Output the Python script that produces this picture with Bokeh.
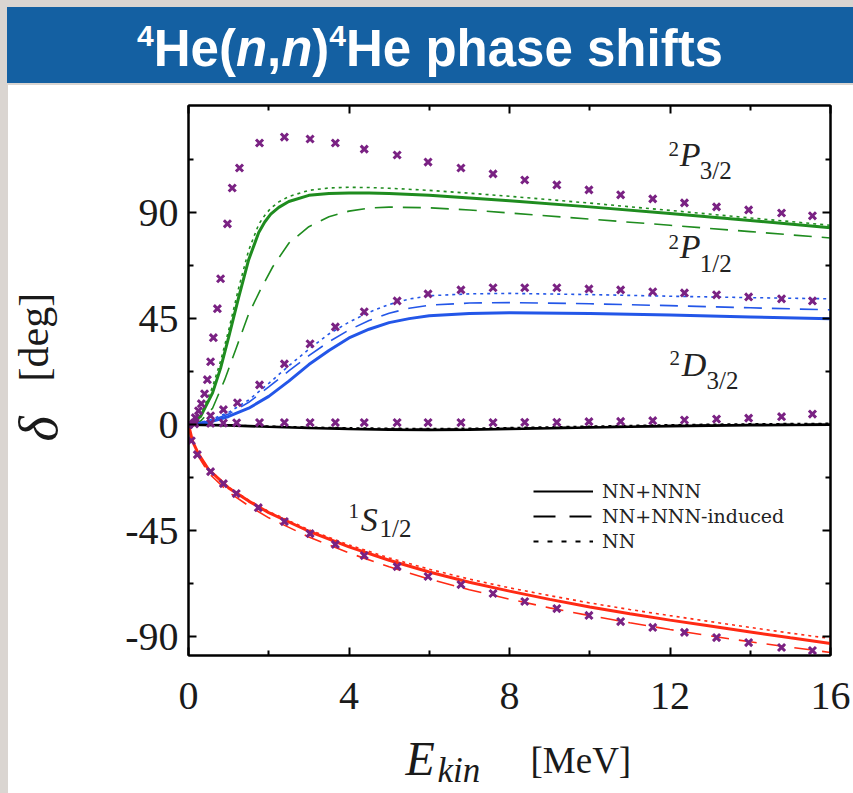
import math
from bokeh.plotting import figure
from bokeh.models import (Range1d, LinearAxis, FixedTicker, Label, Legend,
                          LegendItem, Div)
from bokeh.layouts import column, gridplot
from bokeh.embed import file_html
from bokeh.resources import INLINE

# ---------------- data ----------------
x_ticks = [0, 4, 8, 12, 16]
x_minor = [2, 6, 10, 14]
y_ticks = [-90, -45, 0, 45, 90]
y_tick_labels = ["-90", "-45", "0", "45", "90"]
y_minor = [-67.5, -22.5, 22.5, 67.5, 112.5]

legend_labels = ["NN+NNN", "NN+NNN-induced", "NN"]

# 2P3/2 (green)
E_g = [0, 0.3, 0.6, 0.8, 1.0, 1.25, 1.5, 1.75, 1.9, 2.05, 2.25, 2.5, 3, 3.5, 4, 4.5, 5, 6, 7, 8, 10, 12, 14, 16]
g_solid = [0, 3.5, 13.5, 24, 37, 54, 70, 81.5, 86, 89.3, 92.2, 94.7, 97.3, 98.1, 98.3, 98.3, 98.1, 97.3, 96.2, 95, 92.4, 89.6, 86.6, 83.5]
g_dot = [0, 4, 16, 27, 40, 58, 74, 85, 88.8, 91.8, 94.5, 96.8, 99.4, 100.4, 100.7, 100.6, 100.3, 99.4, 98.2, 96.9, 94, 90.9, 87.7, 84.6]
E_gd = [0, 0.3, 0.6, 0.9, 1.2, 1.5, 1.8, 2.1, 2.5, 3, 3.5, 4, 4.5, 5, 6, 7, 8, 10, 12, 14, 16]
g_dash = [0, 1.5, 7, 19, 33, 47, 57.5, 67, 77, 84, 88.2, 90.6, 91.9, 92.3, 92, 91.1, 89.8, 87.2, 84.6, 81.9, 79.2]

# 2P1/2 (blue)
E_b = [0, 0.5, 1, 1.5, 2, 2.5, 3, 3.5, 4, 4.5, 5, 5.5, 6, 7, 8, 10, 12, 14, 16]
b_solid = [0, 1, 3.5, 7, 12, 18.5, 25.5, 31.5, 36.8, 40.5, 43.3, 45, 46.2, 47.2, 47.5, 47.2, 46.5, 45.7, 44.9]
b_dash = [0, 1.5, 4.5, 9.5, 16, 22.8, 29.3, 35.2, 40.2, 44.2, 47.3, 49.4, 50.7, 51.6, 51.8, 51.3, 50.5, 49.6, 48.7]
b_dot = [0, 1.8, 5.2, 10.5, 17.5, 25, 32, 38.5, 43.5, 47.7, 51, 53.3, 54.7, 55.5, 55.7, 55.2, 54.5, 53.9, 53.4]

# 2D3/2 (black)
E_k = [0, 1, 2, 3, 4, 5, 6, 7, 8, 9, 10, 11, 12, 13, 14, 15, 16]
k_solid = [0, -0.3, -0.9, -1.4, -1.8, -2.1, -2.2, -2.1, -1.8, -1.5, -1.2, -0.9, -0.6, -0.4, -0.2, -0.1, 0]
k_dash = [0, -0.2, -0.7, -1.2, -1.5, -1.8, -1.9, -1.8, -1.5, -1.2, -0.9, -0.6, -0.3, -0.1, 0.1, 0.2, 0.3]
k_dot = [0, -0.2, -0.6, -1.0, -1.3, -1.5, -1.6, -1.5, -1.2, -0.9, -0.6, -0.3, 0, 0.2, 0.4, 0.5, 0.6]

# 1S1/2 (red)
E_r = [0, 0.1, 0.25, 0.5, 1, 1.5, 2, 3, 4, 5, 6, 7, 8, 9, 10, 11, 12, 13, 14, 15, 16]
r_solid = [0, -7, -12.5, -19, -26.8, -32.4, -37.3, -45.2, -51.8, -57.5, -62.5, -66.8, -70.6, -74.1, -77.3, -80.2, -82.9, -85.4, -87.9, -90.4, -92.8]
r_dash = [0, -7.5, -13.5, -20.5, -28.6, -34.4, -39.5, -47.6, -54.4, -60.3, -65.5, -70, -74, -77.7, -81, -84, -86.9, -89.6, -92.1, -94.4, -96.6]
r_dot = [0, -7, -12.3, -18.8, -26.5, -32, -36.8, -44.6, -51, -56.5, -61.3, -65.5, -69.2, -72.5, -75.6, -78.4, -81, -83.5, -86, -88.4, -90.7]

# reference points (crosses)
E_p32 = [0, 0.17, 0.25, 0.32, 0.40, 0.47, 0.55, 0.62, 0.72, 0.80, 0.97, 1.09, 1.27, 1.77, 2.39, 3.03, 3.66, 4.38, 5.20, 5.97, 6.79, 7.59, 8.38, 9.18, 9.98, 10.77, 11.57, 12.36, 13.16, 13.96, 14.78, 15.55]
d_p32 = [0, 3.0, 5.9, 8.9, 13.1, 19.1, 26.7, 36.9, 49.2, 61.9, 85.2, 100.4, 108.9, 119.5, 122.0, 121.2, 119.5, 116.9, 114.4, 111.4, 108.9, 106.4, 103.8, 101.7, 99.6, 97.5, 95.8, 94.1, 92.4, 91.1, 89.8, 88.6]
E_p12 = [0, 0.15, 0.55, 0.87, 1.22, 1.77, 2.39, 3.03, 3.66, 4.38, 5.20, 5.97, 6.79, 7.59, 8.38, 9.18, 9.98, 10.77, 11.57, 12.36, 13.16, 13.96, 14.78, 15.55]
d_p12 = [0, 0.8, 3.8, 6.4, 9.3, 16.9, 25.8, 34.3, 41.5, 47.9, 52.5, 55.5, 57.2, 58.1, 58.1, 58.1, 57.6, 57.2, 56.4, 55.9, 55.1, 54.2, 53.4, 52.5]
E_d32 = [0, 0.15, 0.55, 0.87, 1.2, 1.77, 2.39, 3.03, 3.66, 4.38, 5.20, 5.97, 6.79, 7.59, 8.38, 9.18, 9.98, 10.77, 11.57, 12.36, 13.16, 13.96, 14.78, 15.55]
d_d32 = [0, 0.3, 0.6, 0.7, 0.8, 0.9, 0.9, 0.9, 0.9, 0.9, 0.9, 0.9, 0.9, 0.9, 1.0, 1.0, 1.3, 1.4, 1.7, 2.0, 2.4, 2.8, 3.4, 4.5]
E_s12 = [0, 0.07, 0.22, 0.55, 0.87, 1.19, 1.74, 2.39, 3.03, 3.66, 4.38, 5.20, 5.97, 6.79, 7.59, 8.38, 9.18, 9.98, 10.77, 11.57, 12.36, 13.16, 13.96, 14.78, 15.55]
d_s12 = [0, -6.8, -12.7, -19.9, -25.0, -29.2, -35.2, -41.1, -46.2, -50.8, -55.5, -60.2, -64.4, -67.8, -71.6, -75.0, -78.0, -80.9, -83.5, -86.0, -88.1, -90.3, -92.4, -94.5, -95.8]

# ---------------- styles ----------------
GREEN = "#1f8c1f"
BLUE = "#2356e8"
RED = "#ff2a14"
BLACK = "#000000"
PURPLE = "#7a2283"
BLUEBAR = "#1460a2"
SLIDE = "#dad5d1"
SERIF = "Liberation Serif"
DASH = "18 10"
DOT = "3 4"
TXT = "#1a1a1a"
BOTTOM = 72   # bottom border of the main plot (room for the x tick labels)

# ---------------- header (slide title bar) ----------------
sup = '<span style="font-size:30px;position:relative;top:-20px;">4</span>'
header = Div(
    text=('<div style="width:846px;height:76px;box-sizing:border-box;padding-top:4px;'
          'background:%s;color:#ffffff;font-family:\'Liberation Sans\',Arial,sans-serif;'
          'font-weight:bold;font-size:51px;line-height:76px;text-align:center;'
          'white-space:nowrap;overflow:hidden;">'
          '%sHe(<i>n</i>,<i>n</i>)%sHe phase shifts</div>') % (BLUEBAR, sup, sup),
    width=846, height=76, margin=(7, 0, 2, 7))

# ---------------- main plot ----------------
p = figure(width=753, height=20 + 550 + BOTTOM, x_range=Range1d(0, 16), y_range=Range1d(-97.9, 135.4),
           output_backend="svg", toolbar_location=None,
           min_border_left=88, min_border_right=23, min_border_top=20, min_border_bottom=BOTTOM,
           background_fill_color="white", border_fill_color="white",
           outline_line_color="black", outline_line_width=2)
p.grid.visible = False


def style_axis(ax, show_labels=True):
    ax.axis_line_color = "black"
    ax.axis_line_width = 2
    ax.major_tick_in = 8
    ax.major_tick_out = 0
    ax.minor_tick_in = 5
    ax.minor_tick_out = 0
    ax.major_tick_line_width = 2
    ax.minor_tick_line_width = 2
    ax.major_tick_line_color = "black"
    ax.minor_tick_line_color = "black"
    if show_labels:
        ax.major_label_text_font = SERIF
        ax.major_label_text_font_size = "40px"
        ax.major_label_text_color = TXT
    else:
        ax.major_label_text_font_size = "1px"
        ax.major_label_standoff = 0


xax = p.xaxis[0]
xax.ticker = FixedTicker(ticks=x_ticks, minor_ticks=x_minor)
style_axis(xax)
xax.major_label_standoff = 27

yax = p.yaxis[0]
yax.ticker = FixedTicker(ticks=y_ticks, minor_ticks=y_minor)
yax.major_label_overrides = {t: l for t, l in zip(y_ticks, y_tick_labels)}
style_axis(yax)
yax.major_label_standoff = 10

top = LinearAxis(ticker=FixedTicker(ticks=x_ticks, minor_ticks=x_minor),
                 major_label_overrides={t: "" for t in x_ticks})
style_axis(top, False)
p.add_layout(top, "above")
right = LinearAxis(ticker=FixedTicker(ticks=y_ticks, minor_ticks=y_minor),
                   major_label_overrides={t: "" for t in y_ticks})
style_axis(right, False)
p.add_layout(right, "right")

# curves
curves = [
    (E_g, g_solid, GREEN, "solid", 3), (E_gd, g_dash, GREEN, DASH, 1.6), (E_g, g_dot, GREEN, DOT, 1.6),
    (E_b, b_solid, BLUE, "solid", 3), (E_b, b_dash, BLUE, DASH, 1.6), (E_b, b_dot, BLUE, DOT, 1.6),
    (E_r, r_solid, RED, "solid", 3), (E_r, r_dash, RED, DASH, 1.6), (E_r, r_dot, RED, DOT, 1.6),
    (E_k, k_solid, BLACK, "solid", 2.6), (E_k, k_dash, BLACK, DASH, 1.4), (E_k, k_dot, BLACK, DOT, 1.4),
]
for xs, ys, c, dash, w in curves:
    p.line(xs, ys, line_color=c, line_width=w, line_dash=dash)

for xs, ys in [(E_p32, d_p32), (E_p12, d_p12), (E_d32, d_d32), (E_s12, d_s12)]:
    p.scatter(xs, ys, marker="x", size=10, line_color=PURPLE, line_width=3)

# legend (black sample lines; the renderers hold a single NaN point only)
nan = float("nan")
l1 = p.line([nan], [nan], line_color="black", line_width=2.2)
l2 = p.line([nan], [nan], line_color="black", line_width=2.2, line_dash="22 14")
l3 = p.line([nan], [nan], line_color="black", line_width=2.2, line_dash="5 9")
leg = Legend(items=[LegendItem(label=legend_labels[0], renderers=[l1]),
                    LegendItem(label=legend_labels[1], renderers=[l2]),
                    LegendItem(label=legend_labels[2], renderers=[l3])],
             location=(345, 102), padding=0, margin=0, spacing=1,
             glyph_width=60, glyph_height=24, label_height=24, label_standoff=9,
             label_text_font="DejaVu Serif", label_text_font_size="19px", label_text_color="#222222",
             border_line_alpha=0, background_fill_alpha=0)
p.add_layout(leg)

# partial-wave annotations (superscript, letter, subscript), data units
wave_labels = [
    ("2", 11.96, 116.8, "P", 12.24, 114.6, "3/2", 12.74, 107.8),
    ("2", 11.96, 77.4, "P", 12.24, 75.6, "1/2", 12.74, 68.4),
    ("2", 11.99, 28.3, "D", 12.29, 25.6, "3/2", 12.91, 18.9),
    ("1", 3.99, -36.4, "S", 4.29, -40.2, "1/2", 4.76, -44.2),
]
for s_txt, xs_, ys_, let, xl, yl, sub, xb, yb in wave_labels:
    p.add_layout(Label(x=xs_, y=ys_, text=s_txt, text_font=SERIF, text_font_size="21px",
                       text_color="#222222", text_baseline="alphabetic"))
    p.add_layout(Label(x=xl, y=yl, text=let, text_font=SERIF, text_font_size="34px",
                       text_font_style="italic", text_color="#222222", text_baseline="alphabetic"))
    p.add_layout(Label(x=xb, y=yb, text=sub, text_font=SERIF, text_font_size="25px",
                       text_color="#222222", text_baseline="alphabetic"))

# ---------------- axis-title strips (page-pixel coordinates) ----------------
# left strip: frame aligned with the main frame vertically (page y 105..655)
yfig = figure(width=92, height=20 + 550 + BOTTOM, x_range=Range1d(8, 100), y_range=Range1d(655, 105),
              output_backend="svg", toolbar_location=None,
              min_border_left=0, min_border_right=0, min_border_top=20, min_border_bottom=BOTTOM,
              x_axis_location=None, y_axis_location=None,
              background_fill_color="white", border_fill_color="white", outline_line_color=None)
yfig.grid.visible = False
for t, x, y, fs, st in [("δ", 38, 441, "54px", "italic"), ("[deg]", 33, 381, "42px", "normal")]:
    yfig.add_layout(Label(x=x, y=y, text=t, text_font=SERIF, text_font_size=fs,
                          text_font_style=st, text_color=TXT, angle=math.pi / 2,
                          text_align="left", text_baseline="alphabetic"))

# bottom strip: frame aligned with the main frame horizontally (page x 188..830)
top_x = 85 + 20 + 550 + BOTTOM
xfig = figure(width=753, height=793 - top_x, x_range=Range1d(188, 830), y_range=Range1d(793, top_x),
              output_backend="svg", toolbar_location=None,
              min_border_left=88, min_border_right=23, min_border_top=0, min_border_bottom=0,
              x_axis_location=None, y_axis_location=None,
              background_fill_color="white", border_fill_color="white", outline_line_color=None)
xfig.grid.visible = False
for t, x, y, fs, st in [("E", 405, 757.6, "48px", "italic"),
                        ("kin", 437, 770.0, "35px", "italic"),
                        ("[MeV]", 530, 760.2, "37px", "normal")]:
    xfig.add_layout(Label(x=x, y=y, text=t, text_font=SERIF, text_font_size=fs,
                          text_font_style=st, text_color=TXT,
                          text_align="left", text_baseline="alphabetic"))

grid = gridplot([[yfig, p], [None, xfig]], toolbar_location=None)
grid.margin = (0, 0, 0, 8)
grid.styles = {"background-color": "white"}

layout = column(header, grid, styles={"background-color": SLIDE})

open("out.html", "w").write(file_html(layout, INLINE))
